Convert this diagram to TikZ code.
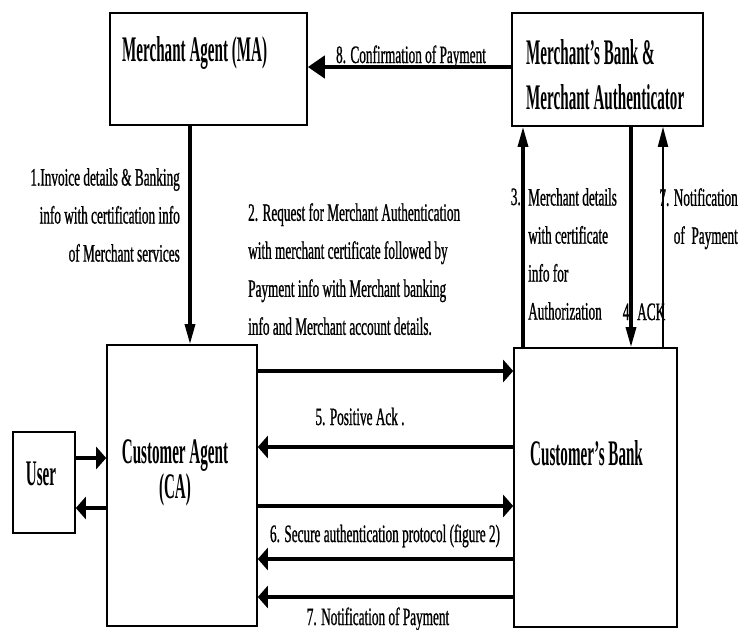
\documentclass[tikz,border=0pt]{standalone}
\usepackage{fontspec}
\setmainfont{Liberation Serif}[FakeStretch=0.53, FakeBold=0.8]
\newfontfamily\titlefont{Liberation Serif}[FakeStretch=0.42]
\usetikzlibrary{arrows.meta}

\begin{document}
\begin{tikzpicture}[x=1pt, y=-1pt,
    box/.style={draw, line width=1.6pt, inner sep=0pt},
    title/.style={font=\titlefont\bfseries\fontsize{36}{45}\selectfont, inner sep=0pt},
    lbl/.style={font=\fontsize{25}{38}\selectfont, inner sep=0pt},
    harrow/.style={-{Triangle[length=10pt, width=22pt]}, line width=4.7pt},
    varrow/.style={-{Triangle[length=20pt, width=10pt]}, line width=3.2pt}]
\useasboundingbox (0,0) rectangle (740,630);
\node[box, minimum width=197pt, minimum height=112pt] (ma) at (208.5,69) {};
\node[box, minimum width=191pt, minimum height=113pt] (mb) at (607.5,69.5) {};
\node[box, minimum width=150pt, minimum height=281pt] (ca) at (182,485.5) {};
\node[box, minimum width=163pt, minimum height=279pt] (cb) at (595.5,487.5) {};
\node[box, minimum width=62pt, minimum height=101pt] (user) at (44,482.5) {};

\node[title, anchor=base west] (maT) at (122,61) {Merchant Agent (MA)};
\node[title, anchor=north west, align=left] (mbT) at (526,39) {Merchant’s Bank \&\\Merchant Authenticator};
\node[title, anchor=north, align=center] (caT) at (175,439) {Customer Agent\\[-10pt](CA)};
\node[title, anchor=base west] (cbT) at (530,465) {Customer’s Bank};
\node[title, anchor=base] (userT) at (41,485) {User};

\node[lbl, anchor=north east, align=right] (l1) at (180,168) {1.Invoice details \& Banking\\info with certification info\\of Merchant services};
\node[lbl, anchor=north west, align=left] (l2) at (248,203) {2. Request for Merchant Authentication\\with merchant certificate followed by\\Payment info with Merchant banking\\info and Merchant account details.};
\node[lbl, anchor=base east] (l3n) at (521,205) {3.};
\node[lbl, anchor=north west, align=left] (l3) at (528,188) {Merchant details\\with certificate\\info for\\Authorization};
\node[lbl, anchor=base] (l4) at (644,320) {4. ACK};
\node[lbl, anchor=north east, align=right] (l7r) at (738,188) {7. Notification\\of\ \ Payment};
\node[lbl, anchor=base] (l8) at (411,63) {8. Confirmation of Payment};
\node[lbl, anchor=base] (l5) at (360,425) {5. Positive Ack .};
\node[lbl, anchor=base] (l6) at (385,542) {6. Secure authentication protocol (figure 2)};
\node[lbl, anchor=base] (l7) at (378,625) {7. Notification of Payment};

\draw[harrow, -{Triangle[length=17pt, width=22pt]}] (mb.west |- 0,67) -- (ma.east |- 0,67);
\draw[varrow] (ma.south -| 190,0) -- (ca.north -| 190,0);
\draw[varrow] (cb.north -| 523,0) -- (mb.south -| 523,0);
\draw[varrow] (mb.south -| 631,0) -- (cb.north -| 631,0);
\draw[varrow, line width=2pt] (cb.north -| 663,0) -- (mb.south -| 663,0);
\draw[harrow] (ca.east |- 0,371) -- (cb.west |- 0,371);
\draw[harrow] (cb.west |- 0,447) -- (ca.east |- 0,447);
\draw[harrow] (ca.east |- 0,506) -- (cb.west |- 0,506);
\draw[harrow] (cb.west |- 0,559) -- (ca.east |- 0,559);
\draw[harrow] (cb.west |- 0,597) -- (ca.east |- 0,597);
\draw[harrow] (user.east |- 0,458) -- (ca.west |- 0,458);
\draw[harrow] (ca.west |- 0,508) -- (user.east |- 0,508);
\end{tikzpicture}
\end{document}
